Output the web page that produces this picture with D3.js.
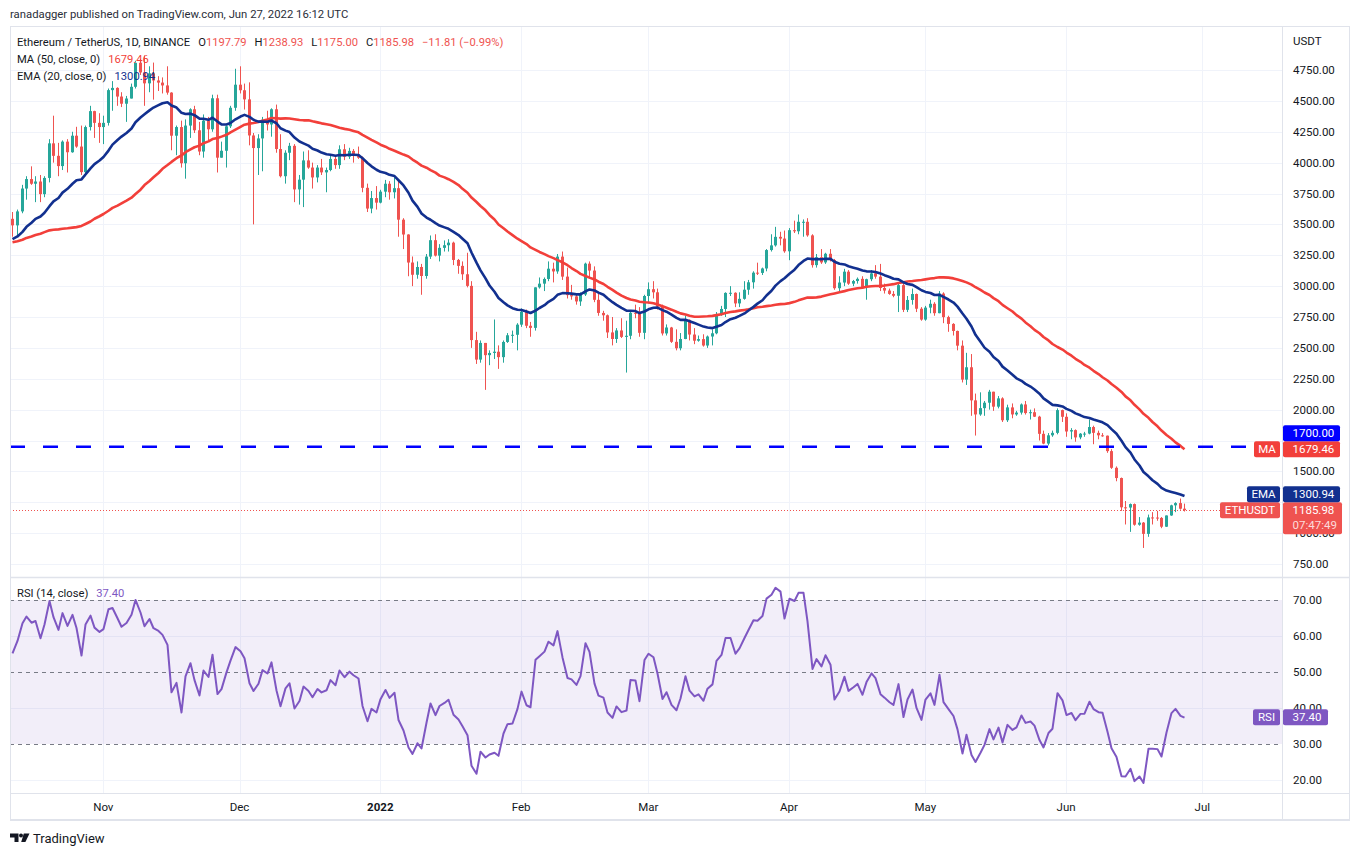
<!DOCTYPE html>
<html>
<head>
<meta charset="utf-8">
<title>ETHUSDT 1D</title>
<script src="https://d3js.org/d3.v7.min.js"></script>
<style>
  body { margin: 0; background: #fff; }
  svg { font-family: Roboto, "Noto Sans", sans-serif; }
  .lbl { font-size: 11.5px; fill: #131722; }
</style>
</head>
<body>
<svg id="chart" width="1360" height="856"></svg>
<script>
// daily closes Aug 23 - Oct 11 2021, only used to warm up the MA / EMA / RSI
const warmupCloses = [
  3324, 3172, 3226, 3100, 3271, 3243, 3224, 3226, 3433,
  3834, 3789, 3940, 3887, 3952, 3927, 3431, 3497, 3427, 3212, 3266, 3407, 3285, 3429, 3612, 3570,
  3398, 3433, 3330, 2977, 2757, 3077, 3155, 2931, 2924, 3063, 2928, 2807, 2850, 3001,
  3308, 3390, 3418, 3380, 3518, 3580, 3587, 3560, 3577, 3416, 3545
];

// visible candles: Oct 12 2021 - Jun 27 2022, open = previous close
const startDate = new Date(Date.UTC(2021, 9, 12));
const firstOpen = 3545;
const closes = [
  3492, 3605, 3790, 3867, 3829, 3847, 3745, 3876, 4156, 4055, 3972, 4170, 4084, 4218, 4130, 3923, 4288, 4417, 4322, 4288,
  4322, 4587, 4605, 4535, 4477, 4519, 4614, 4808, 4730, 4642, 4723, 4665, 4648, 4625, 4567, 4218, 4288, 3995, 4300, 4432, 4262, 4090, 4340, 4270, 4521, 4040, 4096, 4294, 4444, 4631,
  4586, 4512, 4220, 4118, 4196, 4347, 4309, 4432, 4110, 3890, 4080, 4136, 3783, 3862, 4018, 3960, 3880, 3960, 3921, 3940, 4030, 3980, 4108, 4048, 4095, 4066, 4040, 3796, 3628, 3713, 3676,
  3765, 3829, 3760, 3793, 3538, 3418, 3191, 3092, 3155, 3082, 3239, 3372, 3247, 3310, 3331, 3352, 3212, 3164, 3096, 3002, 2563, 2405, 2540, 2441, 2459, 2469, 2425, 2548, 2602, 2606, 2688,
  2792, 2679, 2662, 2990, 3020, 3058, 3141, 3119, 3239, 3077, 2927, 2917, 2876, 2932, 3182, 3126, 2889, 2783, 2764, 2625, 2572, 2641, 2589, 2598, 2784, 2780, 2622, 2920,
  2975, 2950, 2834, 2617, 2665, 2549, 2497, 2572, 2727, 2608, 2558, 2571, 2519, 2592, 2618, 2772, 2815, 2945, 2946, 2860, 2897, 2971, 3031, 3109, 3107, 3143, 3292, 3330, 3399, 3385, 3282,
  3453, 3444, 3521, 3521, 3411, 3170, 3234, 3192, 3262, 3211, 2983, 3029, 3117, 3020, 3041, 3059, 2990, 3056, 3103, 3077, 2985, 2964, 2937, 2922, 3008, 2808, 2888, 2936, 2817, 2729,
  2826, 2857, 2781, 2940, 2749, 2694, 2637, 2518, 2243, 2343, 2075, 1961, 2012, 2056, 2145, 2024, 2091, 1914, 2018, 1961, 1976, 2042, 1972, 1979, 1943, 1804, 1725, 1792, 1812, 1996, 1942,
  1823, 1834, 1775, 1805, 1806, 1859, 1812, 1792, 1789, 1664, 1529, 1446, 1209, 1207, 1235, 1068, 1085, 994, 1127, 1126, 1123, 1052, 1143, 1225, 1243, 1197.79, 1185.98
];
const highs = [
  3600, 3620, 3820, 3890, 3970, 3890, 3900, 3890, 4190, 4380, 4160, 4180, 4190, 4250, 4290, 4300, 4300, 4460, 4420, 4400,
  4380, 4600, 4660, 4610, 4570, 4540, 4640, 4825, 4840, 4868, 4780, 4810, 4700, 4690, 4780, 4570, 4300, 4340, 4350, 4440, 4460, 4330, 4390, 4370, 4550, 4550, 4170, 4300, 4460, 4760,
  4780, 4640, 4650, 4240, 4230, 4370, 4420, 4440, 4470, 4230, 4100, 4160, 4150, 3900, 4090, 4100, 4000, 3980, 4030, 3960, 4070, 4050, 4140, 4150, 4120, 4110, 4130, 4050, 3830, 3770, 3810,
  3780, 3860, 3850, 3880, 3850, 3550, 3420, 3240, 3200, 3180, 3260, 3410, 3420, 3340, 3370, 3380, 3360, 3220, 3200, 3270, 3040, 2630, 2560, 2540, 2480, 2730, 2520, 2560, 2620, 2640, 2700,
  2820, 2810, 2710, 2990, 3070, 3070, 3200, 3190, 3260, 3280, 3150, 3010, 2940, 2950, 3190, 3200, 3160, 2940, 2800, 2770, 2750, 2660, 2740, 2720, 2800, 2850, 2830, 2930,
  3030, 3040, 2980, 2850, 2690, 2670, 2650, 2620, 2760, 2730, 2660, 2600, 2610, 2600, 2650, 2790, 2840, 2950, 3000, 2950, 2950, 3040, 3050, 3120, 3190, 3150, 3300, 3420, 3480, 3440, 3450,
  3470, 3530, 3580, 3540, 3550, 3420, 3260, 3300, 3270, 3300, 3220, 3080, 3140, 3130, 3050, 3070, 3080, 3060, 3130, 3170, 3180, 3020, 2980, 2960, 3020, 3030, 2920, 2980, 2940, 2830,
  2840, 2890, 2870, 2960, 2950, 2760, 2700, 2640, 2560, 2460, 2450, 2130, 2140, 2070, 2160, 2140, 2110, 2100, 2040, 2050, 1990, 2050, 2070, 2000, 2010, 1950, 1830, 1810, 1830, 2010, 2000,
  1970, 1850, 1840, 1810, 1820, 1920, 1870, 1830, 1810, 1790, 1680, 1540, 1450, 1260, 1240, 1240, 1130, 1090, 1150, 1170, 1180, 1130, 1140, 1230, 1250, 1280, 1238.93
];
const lows = [
  3400, 3400, 3590, 3700, 3820, 3680, 3680, 3720, 3840, 4000, 3890, 3940, 3920, 4080, 4120, 3900, 3890, 4260, 4200, 4160,
  4150, 4300, 4420, 4460, 4450, 4330, 4520, 4600, 4710, 4460, 4570, 4510, 4580, 4560, 4550, 4100, 4060, 3960, 3870, 4200, 4240, 4060, 4040, 4170, 4250, 3920, 4040, 3960, 4280, 4420,
  4560, 4430, 4140, 3500, 3900, 3930, 4260, 4210, 4080, 3880, 3830, 4020, 3680, 3660, 3640, 3950, 3790, 3840, 3900, 3760, 3930, 3950, 3950, 4020, 4030, 4000, 4030, 3760, 3600, 3590, 3620,
  3670, 3720, 3700, 3710, 3400, 3300, 3080, 3000, 3060, 2930, 3060, 3220, 3240, 3200, 3280, 3280, 3170, 3100, 3050, 2990, 2500, 2370, 2380, 2160, 2360, 2410, 2330, 2380, 2540, 2540, 2480,
  2670, 2660, 2590, 2640, 2980, 2960, 3040, 3030, 3100, 3050, 2900, 2890, 2850, 2840, 2920, 3060, 2870, 2760, 2720, 2580, 2520, 2540, 2580, 2300, 2570, 2740, 2590, 2570,
  2860, 2900, 2810, 2600, 2600, 2540, 2480, 2480, 2570, 2560, 2530, 2550, 2510, 2500, 2520, 2610, 2760, 2750, 2920, 2830, 2830, 2890, 2930, 2980, 3090, 3090, 3120, 3280, 3320, 3330, 3270,
  3210, 3430, 3420, 3400, 3400, 3150, 3150, 3180, 3180, 3200, 2970, 2950, 3000, 3010, 3000, 3020, 2980, 2890, 3040, 3060, 2960, 2940, 2930, 2910, 2790, 2790, 2790, 2850, 2790, 2720,
  2720, 2780, 2760, 2780, 2700, 2630, 2600, 2480, 2220, 2200, 1950, 1790, 1950, 1950, 2000, 1990, 2010, 1900, 1900, 1930, 1950, 1960, 1960, 1920, 1940, 1750, 1720, 1710, 1780, 1800, 1900,
  1780, 1760, 1740, 1760, 1780, 1800, 1720, 1760, 1780, 1650, 1520, 1420, 1180, 1070, 1010, 1060, 1060, 880, 970, 1070, 1100, 1040, 1050, 1140, 1170, 1190, 1175
];

const priceTicks = d3.range(750, 4751, 250);
const rsiDashed = [70, 50, 30];
const rsiGrid = [60, 40, 20];
const rsiTicks = [70, 60, 50, 40, 30, 20];
const keyLevel = 1700;
const maLast = 1679.46, emaLast = 1300.94, rsiLast = 37.40;
const lastO = 1197.79, lastH = 1238.93, lastL = 1175.00, lastC = 1185.98;

const upCol = "#26a69a", downCol = "#ef5350";
const maCol = "#f23f3a", emaCol = "#12308f", lvlCol = "#0000ff", rsiCol = "#7e57c2";
const gridCol = "#f0f3fa", borderCol = "#e0e3eb", textCol = "#131722";

const paneL = 10, paneR = 1282, outerR = 1350;
const mainT = 27, mainB = 577, rsiT = 578, rsiB = 793, axisB = 820;

const svg = d3.select("#chart");
const dates = closes.map((_, i) => d3.utcDay.offset(startDate, i));
const opens = closes.map((c, i) => i === 0 ? firstOpen : closes[i - 1]);

const x = d3.scaleUtc()
  .domain([new Date(Date.UTC(2021, 10, 1)), new Date(Date.UTC(2022, 6, 1))])
  .range([103.3, 1202.3]);
const y = d3.scaleLinear().domain([750, 4750]).range([564, 70]);
const yr = d3.scaleLinear().domain([20, 70]).range([780, 600]);

// indicators
const all = warmupCloses.concat(closes);
const nW = warmupCloses.length;
function sma(src, n) {
  return src.map((v, i) => i < n - 1 ? null : d3.mean(src.slice(i - n + 1, i + 1)));
}
function ema(src, n) {
  const a = 2 / (n + 1);
  let prev = null;
  return src.map((v, i) => {
    if (i < n - 1) return null;
    prev = prev === null ? d3.mean(src.slice(0, n)) : a * v + (1 - a) * prev;
    return prev;
  });
}
function rsi(src, n) {
  const out = src.map(() => null);
  let ag = 0, al = 0;
  for (let i = 1; i < src.length; i++) {
    const ch = src[i] - src[i - 1], g = Math.max(ch, 0), l = Math.max(-ch, 0);
    if (i <= n) {
      ag += g / n; al += l / n;
      if (i === n) out[i] = 100 - 100 / (1 + ag / al);
    } else {
      ag = (ag * (n - 1) + g) / n;
      al = (al * (n - 1) + l) / n;
      out[i] = al === 0 ? 100 : 100 - 100 / (1 + ag / al);
    }
  }
  return out;
}
const ma50 = sma(all, 50).slice(nW);
const ema20 = ema(all, 20).slice(nW);
const rsi14 = rsi(all, 14).slice(nW);

// clip paths
const defs = svg.append("defs");
defs.append("clipPath").attr("id", "clipMain")
  .append("rect").attr("x", paneL).attr("y", mainT).attr("width", paneR - paneL).attr("height", mainB - mainT);
defs.append("clipPath").attr("id", "clipRsi")
  .append("rect").attr("x", paneL).attr("y", rsiT).attr("width", paneR - paneL).attr("height", rsiB - rsiT);

// grid
const months = d3.utcMonth.range(new Date(Date.UTC(2021, 10, 1)), new Date(Date.UTC(2022, 6, 2)));
svg.append("g").selectAll("line").data(months).join("line")
  .attr("x1", d => Math.round(x(d)) + 0.5).attr("x2", d => Math.round(x(d)) + 0.5)
  .attr("y1", mainT).attr("y2", rsiB)
  .attr("stroke", gridCol).attr("stroke-width", 1);
svg.append("g").selectAll("line").data(priceTicks).join("line")
  .attr("x1", paneL).attr("x2", paneR)
  .attr("y1", d => Math.round(y(d)) + 0.5).attr("y2", d => Math.round(y(d)) + 0.5)
  .attr("stroke", gridCol);
svg.append("g").selectAll("line").data(rsiGrid).join("line")
  .attr("x1", paneL).attr("x2", paneR)
  .attr("y1", d => Math.round(yr(d)) + 0.5).attr("y2", d => Math.round(yr(d)) + 0.5)
  .attr("stroke", gridCol);

// RSI band
svg.append("rect")
  .attr("x", paneL).attr("width", paneR - paneL)
  .attr("y", yr(70)).attr("height", yr(30) - yr(70))
  .attr("fill", "rgba(126,87,194,0.1)");
svg.append("g").selectAll("line").data(rsiDashed).join("line")
  .attr("x1", paneL).attr("x2", paneR)
  .attr("y1", d => Math.round(yr(d)) + 0.5).attr("y2", d => Math.round(yr(d)) + 0.5)
  .attr("stroke", "#787b86").attr("stroke-dasharray", "4,4");

// candles
const cg = svg.append("g").attr("clip-path", "url(#clipMain)");
const candle = cg.selectAll("g").data(closes.map((c, i) => i)).join("g");
candle.append("line")
  .attr("x1", i => Math.round(x(dates[i])) + 0.5).attr("x2", i => Math.round(x(dates[i])) + 0.5)
  .attr("y1", i => y(Math.max(highs[i], opens[i], closes[i])))
  .attr("y2", i => y(Math.min(lows[i], opens[i], closes[i])))
  .attr("stroke", i => closes[i] >= opens[i] ? upCol : downCol).attr("stroke-width", 1);
candle.append("rect")
  .attr("x", i => Math.round(x(dates[i])) - 1).attr("width", 3)
  .attr("y", i => y(Math.max(opens[i], closes[i])))
  .attr("height", i => Math.max(1, Math.abs(y(opens[i]) - y(closes[i]))))
  .attr("fill", i => closes[i] >= opens[i] ? upCol : downCol);

// moving averages
const lineMain = src => d3.line()
  .defined(i => src[i] !== null)
  .x(i => Math.round(x(dates[i])) + 0.5)
  .y(i => y(src[i]));
const idx = closes.map((c, i) => i);
cg.append("path").attr("d", lineMain(ma50)(idx))
  .attr("fill", "none").attr("stroke", maCol).attr("stroke-width", 2.6).attr("stroke-linejoin", "round");
cg.append("path").attr("d", lineMain(ema20)(idx))
  .attr("fill", "none").attr("stroke", emaCol).attr("stroke-width", 2.6).attr("stroke-linejoin", "round");

// horizontal key level and last price line
cg.append("line").attr("x1", paneL).attr("x2", paneR)
  .attr("y1", y(keyLevel)).attr("y2", y(keyLevel))
  .attr("stroke", lvlCol).attr("stroke-width", 2.6).attr("stroke-dasharray", "15,18");
cg.append("line").attr("x1", paneL).attr("x2", paneR)
  .attr("y1", Math.round(y(lastC)) + 0.5).attr("y2", Math.round(y(lastC)) + 0.5)
  .attr("stroke", downCol).attr("stroke-width", 1).attr("stroke-dasharray", "1,2");

// RSI line
svg.append("g").attr("clip-path", "url(#clipRsi)")
  .append("path")
  .attr("d", d3.line().defined(i => rsi14[i] !== null)
    .x(i => Math.round(x(dates[i])) + 0.5).y(i => yr(rsi14[i]))(idx))
  .attr("fill", "none").attr("stroke", rsiCol).attr("stroke-width", 2).attr("stroke-linejoin", "round");

// frame
const frame = svg.append("g").attr("stroke", borderCol).attr("fill", "none");
frame.append("rect").attr("x", paneL + 0.5).attr("y", mainT - 0.5).attr("width", outerR - paneL - 1).attr("height", axisB - mainT);
frame.append("line").attr("x1", paneL).attr("x2", outerR).attr("y1", axisB).attr("y2", axisB).attr("stroke-width", 2);
frame.append("line").attr("x1", paneR + 0.5).attr("x2", paneR + 0.5).attr("y1", mainT).attr("y2", axisB);
frame.append("line").attr("x1", paneL).attr("x2", outerR).attr("y1", mainB + 0.5).attr("y2", mainB + 0.5).attr("stroke-width", 1.5);
frame.append("line").attr("x1", paneL).attr("x2", outerR).attr("y1", rsiB + 0.5).attr("y2", rsiB + 0.5);

// right-hand badges, stacked so they do not overlap
const badges = [
  { price: lastC, name: "ETHUSDT", value: lastC.toFixed(2), sub: "07:47:49", col: downCol, lw: 60, rw: 59, scale: y },
  { price: emaLast, name: "EMA", value: emaLast.toFixed(2), col: emaCol, lw: 33, rw: 57, scale: y },
  { price: maLast, name: "MA", value: maLast.toFixed(2), col: maCol, lw: 26, rw: 57, scale: y },
  { price: keyLevel, name: null, value: keyLevel.toFixed(2), col: lvlCol, lw: 0, rw: 57, scale: y }
];
badges.forEach(b => { b.yc = b.scale(b.price); });
let prevTop = Infinity;
badges.sort((a, b) => b.yc - a.yc).forEach(b => {
  const below = b.sub ? 24 : 8;
  if (b.yc + below > prevTop) b.yc = prevTop - below;
  prevTop = b.yc - 8;
});

// price axis labels: a label that runs into a badge's value row is skipped, as TradingView does
const shownTicks = priceTicks.filter(p => {
  const t = y(p);
  return !badges.some(b => t + 5 > b.yc - 8 && t - 5 < b.yc + 8);
});
svg.append("g").selectAll("text").data(shownTicks).join("text")
  .attr("class", "lbl").attr("x", 1293).attr("y", d => y(d) + 4)
  .text(d => d.toFixed(2));
svg.append("text").attr("class", "lbl").attr("x", 1293).attr("y", 45).text("USDT");
svg.append("g").selectAll("text").data(rsiTicks).join("text")
  .attr("class", "lbl").attr("x", 1293).attr("y", d => yr(d) + 4)
  .text(d => d.toFixed(2));

// time axis labels
svg.append("g").selectAll("text").data(months).join("text")
  .attr("class", "lbl").attr("x", d => x(d)).attr("y", 811)
  .attr("text-anchor", "middle")
  .attr("font-weight", d => d.getUTCMonth() === 0 ? "bold" : null)
  .text(d => d.getUTCMonth() === 0 ? d.getUTCFullYear() : d3.utcFormat("%b")(d));

badges.push({ price: rsiLast, name: "RSI", value: rsiLast.toFixed(2), col: rsiCol, lw: 27, rw: 45, yc: yr(rsiLast) });

const bg = svg.append("g").attr("font-size", "11.5px");
badges.forEach(b => {
  const top = b.yc - 8;
  bg.append("rect").attr("x", paneR + 1).attr("y", top).attr("width", b.rw)
    .attr("height", b.sub ? 32 : 16).attr("rx", 2).attr("fill", b.col);
  bg.append("text").attr("x", 1292.5).attr("y", b.yc + 4).attr("fill", "#fff").text(b.value);
  if (b.sub) {
    bg.append("text").attr("x", 1292.5).attr("y", b.yc + 19).attr("fill", "rgba(255,255,255,0.8)").text(b.sub);
  }
  if (b.name) {
    bg.append("rect").attr("x", paneR - 2 - b.lw).attr("y", top).attr("width", b.lw)
      .attr("height", 16).attr("rx", 2).attr("fill", b.col);
    bg.append("text").attr("x", paneR - 2 - b.lw / 2).attr("y", b.yc + 4)
      .attr("text-anchor", "middle").attr("fill", "#fff").text(b.name);
  }
});

// legend
const leg = svg.append("g").attr("font-size", "11.2px").attr("fill", textCol);
const l1 = leg.append("text").attr("x", 17).attr("y", 46);
l1.append("tspan").text("Ethereum / TetherUS, 1D, BINANCE");
[["O", lastO], ["H", lastH], ["L", lastL], ["C", lastC]].forEach(([k, v]) => {
  l1.append("tspan").attr("dx", 8).text(k);
  l1.append("tspan").attr("fill", downCol).text(v.toFixed(2));
});
l1.append("tspan").attr("dx", 8).attr("fill", downCol)
  .text("\u2212" + (lastO - lastC).toFixed(2) + " (\u2212" + ((lastO - lastC) / lastO * 100).toFixed(2) + "%)");
const l2 = leg.append("text").attr("x", 17).attr("y", 63);
l2.append("tspan").text("MA (50, close, 0)");
l2.append("tspan").attr("dx", 8).attr("fill", maCol).text(maLast.toFixed(2));
const l3 = leg.append("text").attr("x", 17).attr("y", 80);
l3.append("tspan").text("EMA (20, close, 0)");
l3.append("tspan").attr("dx", 8).attr("fill", emaCol).text(emaLast.toFixed(2));
const l4 = leg.append("text").attr("x", 17).attr("y", 597);
l4.append("tspan").text("RSI (14, close)");
l4.append("tspan").attr("dx", 8).attr("fill", rsiCol).text(rsiLast.toFixed(2));

// header and footer
svg.append("text").attr("x", 10).attr("y", 18).attr("font-size", "11.3px").attr("fill", "#2a2e39")
  .text("ranadagger published on TradingView.com, Jun 27, 2022 16:12 UTC");
const logo = svg.append("g").attr("fill", textCol);
logo.append("path").attr("d", "M10 833.5 H18.5 V842 H14.5 V837.5 H10 Z");
logo.append("circle").attr("cx", 21).attr("cy", 835.6).attr("r", 2);
logo.append("path").attr("d", "M23.8 833.5 H29.5 L25.4 842 H21.2 Z");
svg.append("text").attr("x", 33).attr("y", 842.5).attr("font-size", "13px").attr("fill", textCol)
  .text("TradingView");
</script>
</body>
</html>
